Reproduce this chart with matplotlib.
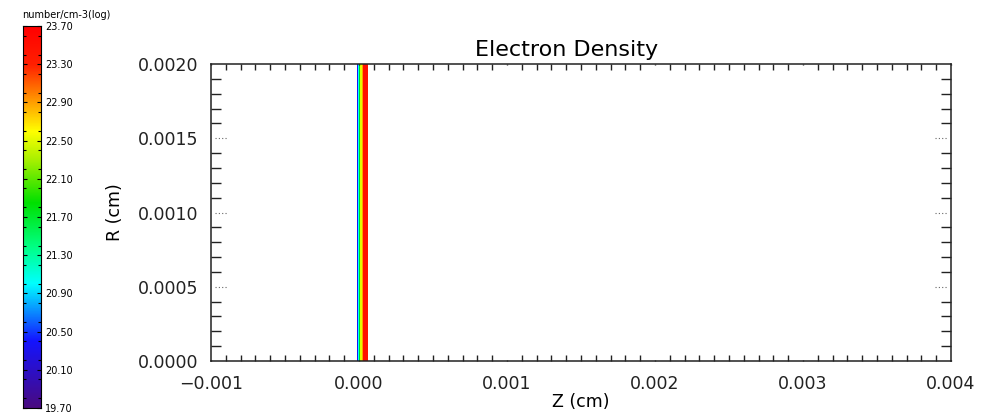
import numpy as np
import matplotlib
matplotlib.use('Agg')
import matplotlib.pyplot as plt
from matplotlib.colors import LinearSegmentedColormap, Normalize
from matplotlib.ticker import MultipleLocator

# cell edges along Z (cm) and log10 electron density in each cell
z_edges = [-1.4e-5, -0.7e-5, 0.0, 1.0e-5, 2.0e-5, 3.0e-5, 6.1e-5]
log_ne = [20.35, 21.0, 21.8, 22.5, 22.9, 23.5]
r_edges = [0.0, 0.0020]

cbar_ticks = [19.70, 20.10, 20.50, 20.90, 21.30, 21.70, 22.10, 22.50, 22.90, 23.30, 23.70]
vmin, vmax = 19.70, 23.70

# IDL style rainbow
cmap = LinearSegmentedColormap.from_list('idl_rainbow', [
    (0.0, '#4a0a80'), (0.175, '#1414ff'), (0.325, '#00ffff'), (0.425, '#00ff80'),
    (0.5375, '#00e000'), (0.65, '#a8f000'), (0.725, '#ffff00'), (0.8, '#ffa000'),
    (0.9, '#ff2000'), (1.0, '#ff0000')])
norm = Normalize(vmin, vmax)

plt.rcParams['font.family'] = ['DejaVu Sans']
plt.rcParams['axes.unicode_minus'] = True
fig = plt.figure(figsize=(9.93, 4.13), dpi=100)
W, H = 993.0, 413.0

ax = fig.add_axes([211 / W, 1 - 361 / H, (951 - 211) / W, (361 - 64) / H])
Z, R = np.meshgrid(z_edges, r_edges)
C = np.array([log_ne])
ax.pcolormesh(Z, R, C, cmap=cmap, norm=norm)

ax.set_xlim(-0.001, 0.004)
ax.set_ylim(0.0, 0.0020)
ax.xaxis.set_major_locator(MultipleLocator(0.001))
ax.xaxis.set_minor_locator(MultipleLocator(0.0001))
ax.yaxis.set_major_locator(MultipleLocator(0.0005))
ax.yaxis.set_minor_locator(MultipleLocator(0.0001))
ax.xaxis.set_major_formatter(plt.FuncFormatter(lambda v, p: ('%.3f' % v).replace('-', '\u2212')))
ax.yaxis.set_major_formatter(plt.FuncFormatter(lambda v, p: '%.4f' % v))
ax.tick_params(which='both', direction='in', top=True, right=True, labelsize=12.5, width=1, colors='#222222')
ax.tick_params(axis='x', which='major', length=1, pad=10)
ax.tick_params(axis='x', which='minor', length=4)
ax.tick_params(axis='y', which='major', length=0, pad=9)
ax.tick_params(axis='y', which='minor', length=7)
for s in ax.spines.values():
    s.set_linewidth(1.1)
    s.set_color('#222222')

# small dotted marks at the major R ticks
for y in [0.0005, 0.0010, 0.0015]:
    ax.plot([-0.00097, -0.00089], [y, y], ls=(0, (1, 2)), lw=0.8, color='#666666')
    ax.plot([0.00389, 0.00397], [y, y], ls=(0, (1, 2)), lw=0.8, color='#666666')

ax.set_title('Electron Density', fontsize=16, pad=6, x=0.48)
ax.set_xlabel('Z (cm)', fontsize=12.5, labelpad=0)
ax.set_ylabel('R (cm)', fontsize=12.5, labelpad=10)

# colour bar
cax = fig.add_axes([23 / W, 1 - 408 / H, (41 - 23) / W, (408 - 26) / H])
grad = np.linspace(vmin, vmax, 256).reshape(-1, 1)
cax.imshow(grad, aspect='auto', origin='lower', cmap=cmap, norm=norm,
           extent=[0, 1, vmin, vmax])
cax.set_xticks([])
cax.yaxis.tick_right()
cax.set_yticks(cbar_ticks)
cax.set_yticklabels(['%.2f' % t for t in cbar_ticks])
cax.yaxis.set_minor_locator(MultipleLocator(0.2))
cax.tick_params(axis='y', which='both', direction='in', left=True, right=True, labelsize=7, pad=3, length=3, width=0.8)
cax.tick_params(axis='y', which='minor', length=2)
for s in cax.spines.values():
    s.set_linewidth(0.8)
fig.text(22 / W, 1 - 15 / H, 'number/cm-3(log)', fontsize=7, va='center', ha='left')

fig.savefig('out.png', dpi=100)
